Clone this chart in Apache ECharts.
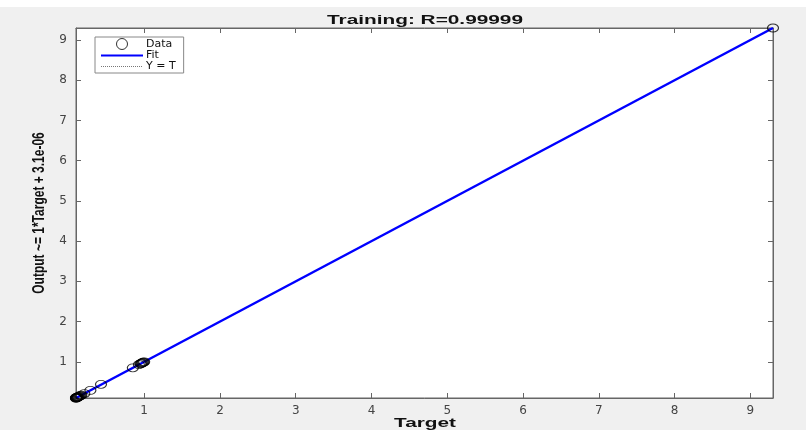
<!DOCTYPE html>
<html><head><meta charset="utf-8">
<script src="https://cdn.jsdelivr.net/npm/echarts@6/dist/echarts.min.js"></script>
<style>html,body{margin:0;padding:0;background:#f0f0f0;}#c{width:806px;height:430px;}</style>
</head><body><div id="c"></div>
<script>
const titleText = 'Training: R=0.99999';
const xLabel = 'Target';
const yLabel = 'Output ~= 1*Target + 3.1e-06';
const axisMin = 0.1;
const axisMax = 9.3;
const tickValues = [1, 2, 3, 4, 5, 6, 7, 8, 9];
const targets = [0.1, 0.1, 0.102, 0.105, 0.11, 0.11, 0.115, 0.12, 0.125, 0.13, 0.14, 0.15, 0.16, 0.17, 0.21, 0.29, 0.43, 0.85, 0.93, 0.95, 0.96, 0.97, 0.98, 0.99, 1.0, 9.3];
const outputs = [0.1, 0.1, 0.102, 0.105, 0.11, 0.11, 0.115, 0.12, 0.125, 0.13, 0.14, 0.15, 0.16, 0.17, 0.21, 0.29, 0.44, 0.85, 0.93, 0.95, 0.96, 0.97, 0.98, 0.99, 1.0, 9.3];
const fitLine = [[axisMin, axisMin], [axisMax, axisMax]];
const identityLine = [[axisMin, axisMin], [axisMax, axisMax]];

const points = targets.map((t, i) => [t, outputs[i]]);
const chart = echarts.init(document.getElementById('c'));
const font = 'Liberation Sans, Arial, sans-serif';
const tickFont = 'DejaVu Sans, sans-serif';
const axisCommon = {
  type: 'value', min: axisMin, max: axisMax,
  axisLine: {show: true, lineStyle: {color: '#666', width: 1}},
  axisTick: {show: true, inside: true, length: 5, customValues: tickValues, lineStyle: {color: '#666'}},
  splitLine: {show: false}
};
const noIcon = {color: 'rgba(0,0,0,0)', borderWidth: 0, borderColor: 'rgba(0,0,0,0)'};
chart.setOption({
  backgroundColor: '#f0f0f0',
  animation: false,
  textStyle: {fontFamily: font},
  graphic: [
    {type: 'rect', left: 0, top: 0, shape: {width: 806, height: 7}, style: {fill: '#ffffff'}, silent: true},
    {type: 'text', x: 425, y: 20, scaleX: 1.6, silent: true,
      style: {text: titleText, font: 'bold 13px Liberation Sans, Arial, sans-serif', fill: '#111', textAlign: 'center', textVerticalAlign: 'middle'}},
    {type: 'text', x: 425, y: 423, scaleX: 1.6, silent: true,
      style: {text: xLabel, font: 'bold 13px Liberation Sans, Arial, sans-serif', fill: '#111', textAlign: 'center', textVerticalAlign: 'middle'}},
    {type: 'text', x: 40, y: 213, rotation: Math.PI / 2, scaleY: 1.3, silent: true,
      style: {text: yLabel, font: 'bold 12px Liberation Sans, Arial, sans-serif', fill: '#111', textAlign: 'center', textVerticalAlign: 'middle'}}
  ],
  grid: {left: 76, right: 33, top: 28, bottom: 32, show: true, backgroundColor: '#ffffff', borderColor: '#666', borderWidth: 1},
  legend: {
    orient: 'vertical', left: 95, top: 37, padding: [1, 8, 1, 5], itemGap: 0,
    itemWidth: 42, itemHeight: 11,
    backgroundColor: '#ffffff', borderColor: '#888', borderWidth: 1, borderRadius: 0,
    textStyle: {fontFamily: tickFont, fontSize: 11, color: '#111', padding: [0, 0, 0, -2]},
    data: [
      {name: 'Data', itemStyle: {borderWidth: 1}},
      {name: 'Fit', itemStyle: noIcon},
      {name: 'Y = T', itemStyle: noIcon, lineStyle: {color: '#777', width: 1}}
    ]
  },
  xAxis: [
    Object.assign({}, axisCommon, {position: 'bottom',
      axisLabel: {customValues: tickValues, fontFamily: tickFont, fontSize: 12, color: '#444', margin: 7}}),
    Object.assign({}, axisCommon, {position: 'top', axisLabel: {show: false}})
  ],
  yAxis: [
    Object.assign({}, axisCommon, {position: 'left',
      axisLabel: {customValues: tickValues, fontFamily: tickFont, fontSize: 12, color: '#444', margin: 9}}),
    Object.assign({}, axisCommon, {position: 'right', axisLabel: {show: false}})
  ],
  series: [
    {name: 'Y = T', type: 'line', data: identityLine, symbol: 'none', z: 2,
      lineStyle: {color: '#000', width: 1, type: 'dotted'}, itemStyle: {color: '#000'}},
    {name: 'Fit', type: 'line', data: fitLine, symbol: 'none', z: 3,
      lineStyle: {color: '#0000ff', width: 2.5}, itemStyle: {color: '#0000ff'}},
    {name: 'Data', type: 'scatter', data: points, symbol: 'circle', symbolSize: [11, 8], z: 4,
      itemStyle: {color: 'rgba(0,0,0,0)', borderColor: '#000', borderWidth: 1}}
  ]
});
</script></body></html>
